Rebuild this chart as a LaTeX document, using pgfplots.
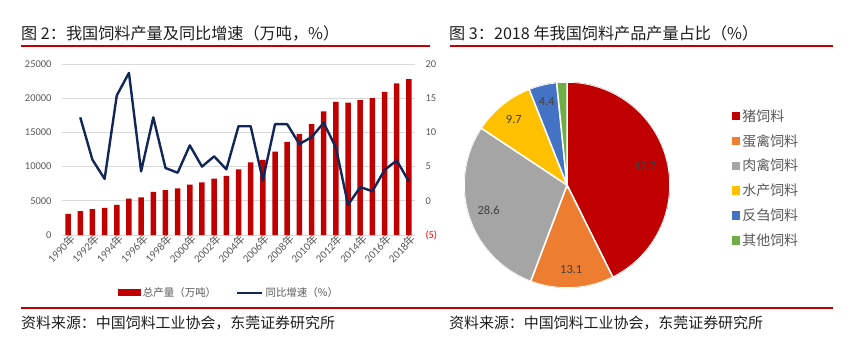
\documentclass[border=0pt]{standalone}
\usepackage{pgfplots}
\pgfplotsset{compat=1.18}
\usepackage{pgfplotstable}
\usepgfplotslibrary{polar}
\usepackage{fontspec}
\setmainfont{Carlito}
\newfontfamily\cjk{Noto Sans CJK SC}
\definecolor{barred}{RGB}{192,0,0}
\definecolor{navy}{RGB}{18,38,88}
\definecolor{gridc}{RGB}{217,217,217}
\definecolor{tickc}{RGB}{89,89,89}
\definecolor{titlec}{RGB}{30,30,30}
\definecolor{pieRed}{RGB}{192,0,0}
\definecolor{pieOrange}{RGB}{237,125,49}
\definecolor{pieGray}{RGB}{165,165,165}
\definecolor{pieYellow}{RGB}{255,192,0}
\definecolor{pieBlue}{RGB}{68,114,196}
\definecolor{pieGreen}{RGB}{112,173,71}
\definecolor{labc}{RGB}{64,64,64}

\pgfplotstableread{
year prod
1990 3100
1991 3500
1992 3800
1993 3950
1994 4400
1995 5300
1996 5500
1997 6300
1998 6550
1999 6800
2000 7350
2001 7700
2002 8250
2003 8650
2004 9600
2005 10600
2006 11000
2007 12200
2008 13600
2009 14750
2010 16200
2011 18060
2012 19450
2013 19340
2014 19730
2015 20010
2016 20920
2017 22160
2018 22790
}\prodtable

\pgfplotstableread{
year growth
1991 12.2
1992 6.0
1993 3.2
1994 15.4
1995 18.7
1996 4.3
1997 12.2
1998 4.8
1999 4.1
2000 8.1
2001 5.0
2002 6.5
2003 4.6
2004 10.9
2005 10.9
2006 3.0
2007 11.2
2008 11.2
2009 8.3
2010 9.3
2011 11.4
2012 7.8
2013 -0.6
2014 2.0
2015 1.4
2016 4.5
2017 5.9
2018 2.8
}\growthtable

% pie shares (%)
\def\pA{42.7}\def\pB{13.1}\def\pC{28.6}\def\pD{9.7}\def\pE{4.4}\def\pF{1.6}
\pgfmathsetmacro\kk{360/(\pA+\pB+\pC+\pD+\pE+\pF)}
\pgfmathsetmacro\aO{90}
\pgfmathsetmacro\aA{\aO-\kk*\pA}
\pgfmathsetmacro\aB{\aA-\kk*\pB}
\pgfmathsetmacro\aC{\aB-\kk*\pC}
\pgfmathsetmacro\aD{\aC-\kk*\pD}
\pgfmathsetmacro\aE{\aD-\kk*\pE}
\pgfmathsetmacro\aF{\aE-\kk*\pF}
\pgfmathsetmacro\mA{(\aO+\aA)/2}
\pgfmathsetmacro\mB{(\aA+\aB)/2}
\pgfmathsetmacro\mC{(\aB+\aC)/2}
\pgfmathsetmacro\mD{(\aC+\aD)/2}
\pgfmathsetmacro\mE{(\aD+\aE)/2}
\pgfmathsetmacro\mF{(\aE+\aF)/2}

\pgfplotsset{
  barleg/.style={legend image code/.code={\fill[barred] (0bp,-3.5bp) rectangle (23bp,3.5bp);}},
  lineleg/.style={legend image code/.code={\draw[navy, line width=2.4bp] (0bp,0bp) -- (25bp,0bp);}},
  sqleg/.style={legend image code/.code={\fill[#1] (0bp,-3.5bp) rectangle (7bp,3.5bp);}},
}

\begin{document}
\begin{tikzpicture}
\path[use as bounding box] (0bp,0bp) rectangle (857bp,343bp);
% titles and rules
\node[anchor=west, inner sep=0, text=titlec, font=\cjk\fontsize{16.2}{19}\selectfont] at (21bp,310bp) {图 2：我国饲料产量及同比增速（万吨，\%）};
\node[anchor=west, inner sep=0, text=titlec, font=\cjk\fontsize{16.2}{19}\selectfont] at (449bp,310bp) {图 3：2018 年我国饲料产品产量占比（\%）};
\draw[barred, line width=2bp] (21bp,297bp) -- (430bp,297bp);
\draw[barred, line width=2bp] (450bp,297bp) -- (833bp,297bp);
\draw[barred, line width=2bp] (21bp,35bp) -- (833bp,35bp);
\node[anchor=west, inner sep=0, text=titlec, font=\cjk\fontsize{15}{17}\selectfont] at (21bp,20bp) {资料来源：中国饲料工业协会，东莞证券研究所};
\node[anchor=west, inner sep=0, text=titlec, font=\cjk\fontsize{15}{17}\selectfont] at (449bp,20bp) {资料来源：中国饲料工业协会，东莞证券研究所};

% left chart: production bars
\begin{axis}[
  at={(62bp,108bp)}, anchor=south west, scale only axis,
  width=353bp, height=171bp,
  xmin=1989.5, xmax=2018.5, ymin=0, ymax=25000,
  ytick={0,5000,...,25000},
  ymajorgrids, grid style={gridc, line width=0.8bp},
  axis line style={draw=none}, major tick length=0pt,
  scaled y ticks=false,
  /pgf/number format/1000 sep={},
  /pgf/number format/assume math mode=true,
  xtick={1990,1992,...,2018},
  xticklabels={1990{\cjk 年},1992{\cjk 年},1994{\cjk 年},1996{\cjk 年},1998{\cjk 年},2000{\cjk 年},2002{\cjk 年},2004{\cjk 年},2006{\cjk 年},2008{\cjk 年},2010{\cjk 年},2012{\cjk 年},2014{\cjk 年},2016{\cjk 年},2018{\cjk 年}},
  x tick label style={rotate=45, anchor=east, inner sep=1bp, yshift=-5bp, xshift=3bp, font=\fontsize{11}{13}\selectfont, text=tickc},
  y tick label style={font=\fontsize{10.5}{12}\selectfont, text=tickc, xshift=-7bp},
  legend style={at={(0.473,-0.339)}, anchor=center, draw=none, fill=none,
    legend columns=2, font=\fontsize{10.5}{12}\selectfont, text=tickc,
    /tikz/every even column/.append style={column sep=18bp}},
]
\addplot[ybar, bar width=5.5bp, fill=barred, draw=none, barleg]
  table[x=year, y=prod] {\prodtable};
\addlegendentry{{\cjk 总产量（万吨）}}
\addlegendimage{lineleg}
\addlegendentry{{\cjk 同比增速（\%）}}
\end{axis}

% left chart: growth line on right axis
\begin{axis}[
  at={(62bp,108bp)}, anchor=south west, scale only axis,
  width=353bp, height=171bp,
  xmin=1989.5, xmax=2018.5, ymin=-5, ymax=20,
  ytick={-5,0,...,20},
  yticklabels={{\color{red}(5)},0,5,10,15,20},
  yticklabel pos=right,
  xtick=\empty,
  axis line style={draw=none}, major tick length=0pt,
  y tick label style={font=\fontsize{10.5}{12}\selectfont, text=tickc, xshift=7bp},
]
\addplot[navy, line width=2.4bp, line join=round, no markers] table[x=year, y=growth] {\growthtable};
\end{axis}

% right chart: pie
\begin{polaraxis}[
  at={(567bp,158bp)}, anchor=center, scale only axis,
  width=206bp, height=206bp, hide axis,
  ymin=0, ymax=1,
  legend cell align=left,
  legend style={at={(1.285,0.887)}, anchor=north west, draw=none, fill=none,
    font=\cjk\fontsize{14}{16}\selectfont, text=tickc, row sep=7.6bp},
]
\addplot[fill=pieRed, draw=white, line width=1.5bp, domain=\aA:\aO, samples=90, sqleg=pieRed]
  {1} -- (axis cs:0,0) -- cycle;
\addlegendentry{猪饲料}
\addplot[fill=pieOrange, draw=white, line width=1.5bp, domain=\aB:\aA, samples=40, sqleg=pieOrange]
  {1} -- (axis cs:0,0) -- cycle;
\addlegendentry{蛋禽饲料}
\addplot[fill=pieGray, draw=white, line width=1.5bp, domain=\aC:\aB, samples=70, sqleg=pieGray]
  {1} -- (axis cs:0,0) -- cycle;
\addlegendentry{肉禽饲料}
\addplot[fill=pieYellow, draw=white, line width=1.5bp, domain=\aD:\aC, samples=30, sqleg=pieYellow]
  {1} -- (axis cs:0,0) -- cycle;
\addlegendentry{水产饲料}
\addplot[fill=pieBlue, draw=white, line width=1.5bp, domain=\aE:\aD, samples=20, sqleg=pieBlue]
  {1} -- (axis cs:0,0) -- cycle;
\addlegendentry{反刍饲料}
\addplot[fill=pieGreen, draw=white, line width=1.5bp, domain=\aF:\aE, samples=10, sqleg=pieGreen]
  {1} -- (axis cs:0,0) -- cycle;
\addlegendentry{其他饲料}
\node[font=\fontsize{12.5}{14}\selectfont, text=labc] at (axis cs:\mA,0.78) {42.7};
\node[font=\fontsize{12.5}{14}\selectfont, text=labc] at (axis cs:\mB,0.82) {13.1};
\node[font=\fontsize{12.5}{14}\selectfont, text=labc] at (axis cs:\mC,0.80) {28.6};
\node[font=\fontsize{12.5}{14}\selectfont, text=labc] at (axis cs:\mD,0.82) {9.7};
\node[font=\fontsize{12.5}{14}\selectfont, text=labc] at (axis cs:\mE,0.83) {4.4};
\node[font=\fontsize{12.5}{14}\selectfont, text=labc] at (axis cs:\mF,1.12) {1.6};
\end{polaraxis}
\end{tikzpicture}
\end{document}
